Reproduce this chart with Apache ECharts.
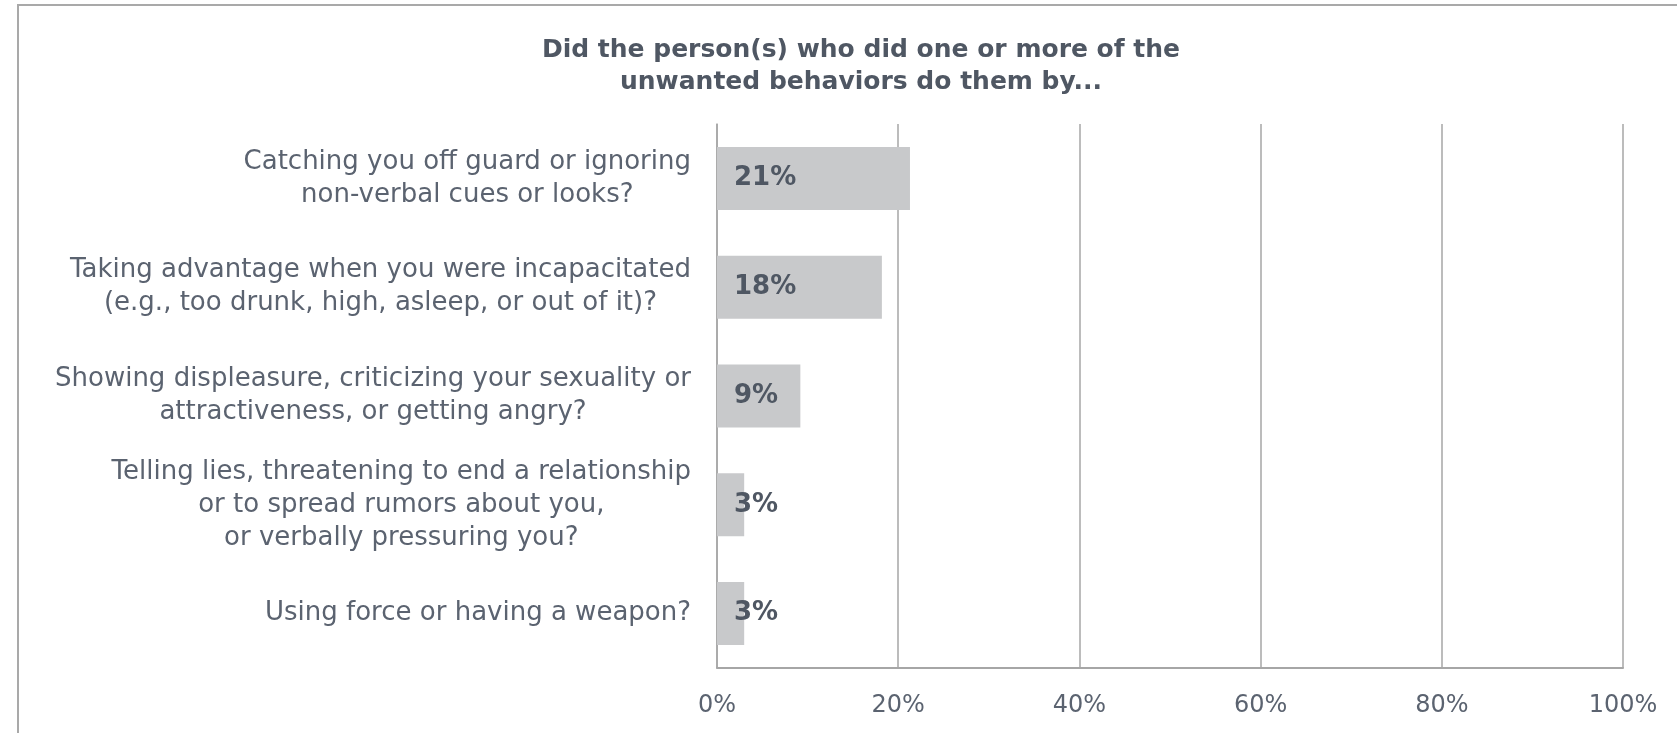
<!DOCTYPE html>
<html>
<head>
<meta charset="utf-8">
<script src="https://cdn.jsdelivr.net/npm/echarts@6/dist/echarts.min.js"></script>
<style>
html,body{margin:0;padding:0;background:#fff;}
#chart{width:1677px;height:733px;}
</style>
</head>
<body>
<div id="chart"></div>
<script>
const titleText = "Did the person(s) who did one or more of the\nunwanted behaviors do them by...";
const categories = [
  "Catching you off guard or ignoring\nnon-verbal cues or looks?",
  "Taking advantage when you were incapacitated\n(e.g., too drunk, high, asleep, or out of it)?",
  "Showing displeasure, criticizing your sexuality or\nattractiveness, or getting angry?",
  "Telling lies, threatening to end a relationship\nor to spread rumors about you,\nor verbally pressuring you?",
  "Using force or having a weapon?"
];
const values = [21.3, 18.2, 9.2, 3.0, 3.0];
const valueLabels = ["21%", "18%", "9%", "3%", "3%"];
const xTicks = [0, 20, 40, 60, 80, 100];

const chart = echarts.init(document.getElementById('chart'), null, {renderer: 'canvas'});
const font = "DejaVu Sans";
const option = {
  animation: false,
  backgroundColor: '#ffffff',
  graphic: [{
    type: 'rect',
    shape: {x: 18, y: 5, width: 1720, height: 800},
    style: {fill: 'none', stroke: '#a9a9a9', lineWidth: 2},
    silent: true, z: -1
  }],
  title: {
    text: titleText,
    left: 856,
    top: 29,
    textAlign: 'center',
    textStyle: {
      fontFamily: font, fontWeight: 'bold', fontSize: 25, lineHeight: 32, color: '#4f5763'
    }
  },
  grid: {left: 717, right: 54, top: 124, bottom: 65, containLabel: false},
  xAxis: {
    type: 'value', min: 0, max: 100, interval: 20,
    axisLine: {show: true, lineStyle: {color: '#a6a6a6', width: 2}},
    axisTick: {show: false},
    splitLine: {show: true, lineStyle: {color: '#a6a6a6', width: 1.5}},
    axisLabel: {
      margin: 26, fontFamily: font, fontSize: 24, color: '#5b6370',
      formatter: v => v + '%'
    }
  },
  yAxis: {
    type: 'category', inverse: true, data: categories,
    axisLine: {show: true, lineStyle: {color: '#a6a6a6', width: 1.5}},
    axisTick: {show: false},
    axisLabel: {
      margin: 26, color: '#5b6370', fontFamily: font, fontSize: 26, lineHeight: 33,
      formatter: v => v.split('\n').map(l => '{c|' + l + '}').join('\n'),
      rich: {c: {align: 'center', fontFamily: font, fontSize: 26, lineHeight: 33, color: '#5b6370'}}
    }
  },
  series: [{
    type: 'bar',
    data: values,
    barWidth: 63,
    itemStyle: {color: '#c8c9cb'},
    label: {
      show: true, position: 'insideLeft', distance: 17,
      fontFamily: font, fontWeight: 'bold', fontSize: 26, color: '#4f5763',
      formatter: p => valueLabels[p.dataIndex]
    }
  }]
};
chart.setOption(option);
</script>
</body>
</html>
